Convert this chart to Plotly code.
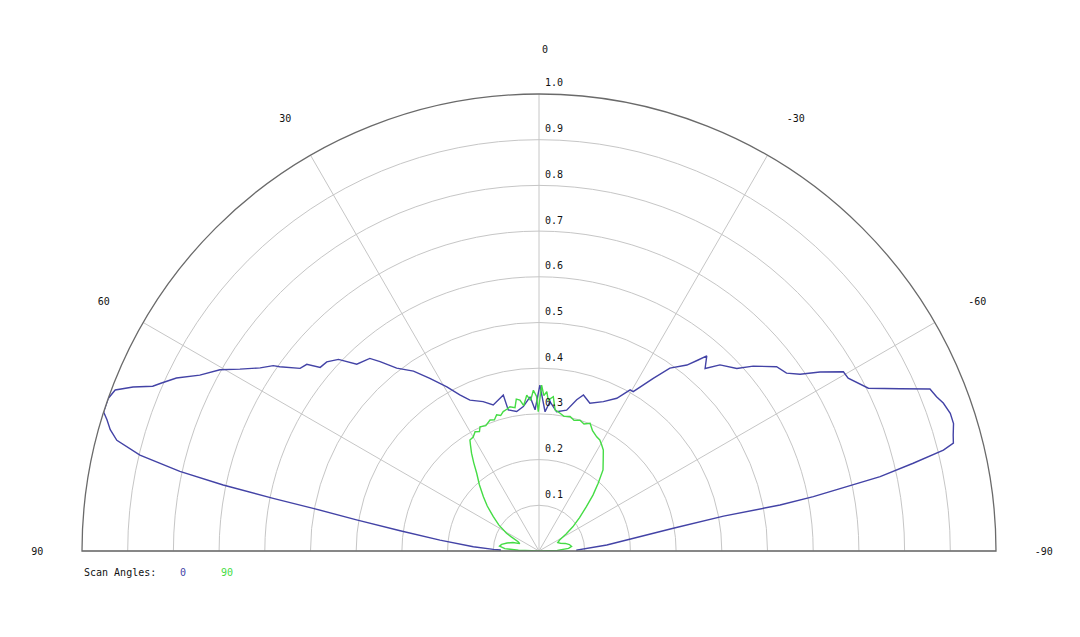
import plotly.graph_objects as go

# scan angle 0 (blue): polar angle in degrees, relative value
blue_theta = [90, 88.5, 87.9, 86.3, 83.7, 81.7, 80.3, 79.3, 78.8, 78.2, 77.5, 76.5,
              75.3, 74.2, 73.1, 72.3, 71.3, 70.5, 69.2, 68.0, 66.9, 66.0, 64.5, 62.6,
              60.4, 58.7, 56.7, 55.1, 54.6, 52.6, 51.2, 50.0, 48.3, 46.3, 44.3, 41.3,
              40.0, 37.9, 34.9, 32.3, 29.3, 26.9, 24.6, 20.5, 17.4, 14.3, 12.9, 12.3,
              9.1, 6.2, 3.3, 1.6, -0.3, -2.5, -4.2, -7.2, -11.1, -14.0, -15.9, -19.0,
              -23.3, -27.0, -29.5, -30.6, -33.5, -35.6, -38.5, -39.8, -40.7, -42.3,
              -44.2, -47.3, -49.2, -52.2, -54.3, -55.9, -57.5, -59.5, -60.8, -63.7,
              -65.8, -67.5, -68.8, -69.9, -71.5, -72.9, -74.4, -75.4, -76.0, -76.8,
              -77.7, -78.2, -78.8, -79.2, -79.3, -80.4, -84.9, -88.5, -90]
blue_r = [0.085, 0.085, 0.100, 0.144, 0.218, 0.307, 0.405, 0.503, 0.593, 0.706, 0.805, 0.898,
          0.955, 0.975, 0.988, 1.0, 1.0, 1.0, 0.992, 0.958, 0.919, 0.904, 0.879, 0.836,
          0.803, 0.766, 0.730, 0.709, 0.696, 0.658, 0.652, 0.625, 0.622, 0.607, 0.571, 0.561,
          0.541, 0.507, 0.480, 0.447, 0.412, 0.383, 0.363, 0.349, 0.335, 0.345, 0.350, 0.316,
          0.309, 0.318, 0.338, 0.309, 0.363, 0.305, 0.328, 0.307, 0.314, 0.341, 0.355, 0.342,
          0.356, 0.375, 0.405, 0.405, 0.453, 0.492, 0.520, 0.544, 0.563, 0.540,
          0.568, 0.589, 0.619, 0.658, 0.667, 0.690, 0.729, 0.773, 0.775, 0.804,
          0.866, 0.926, 0.933, 0.942, 0.949, 0.949, 0.941, 0.937, 0.912, 0.841,
          0.764, 0.688, 0.612, 0.537, 0.411, 0.298, 0.149, 0.083, 0.083]

# scan angle 90 (green)
green_theta = [90, 88, 86, 83, 80, 76, 72, 69, 66, 63, 61.3, 57, 53.1, 49, 45.7, 42,
               38.7, 36.5, 34.6, 33, 31.9, 30, 28.2, 26.5, 25.4, 23, 20.5, 18.8, 17.3,
               15.8, 14.4, 12.8, 11.4, 9.5, 8.5, 7.2, 6.0, 4.5, 3.2, 2.0, 0.9, 0.3,
               -0.9, -1.8, -2.8, -3.5, -5.3, -6.5, -8.7, -10.5, -13.0, -15, -17.4,
               -19.5, -21.8, -24, -26.8, -28.7, -30.5, -32.5, -35, -38.3, -41.1, -44,
               -46.9, -50.5, -54.4, -58, -62, -66, -70, -74, -78, -82, -85, -88, -90]
green_r = [0.0, 0.045, 0.075, 0.087, 0.083, 0.072, 0.060, 0.045, 0.050, 0.068, 0.081, 0.105,
           0.125, 0.150, 0.170, 0.195, 0.218, 0.240, 0.260, 0.275, 0.286, 0.288, 0.296,
           0.292, 0.301, 0.298, 0.306, 0.303, 0.312, 0.308, 0.315, 0.318, 0.322, 0.318,
           0.336, 0.333, 0.320, 0.342, 0.330, 0.352, 0.338, 0.305, 0.363, 0.340, 0.349,
           0.331, 0.339, 0.311, 0.305, 0.300, 0.302, 0.296, 0.300, 0.295, 0.301, 0.288,
           0.280, 0.277, 0.270, 0.262, 0.245, 0.226, 0.197, 0.170, 0.142, 0.115, 0.091,
           0.070, 0.051, 0.045, 0.050, 0.060, 0.068, 0.072, 0.065, 0.040, 0.0]

angle_ticks = [-90, -60, -30, 0, 30, 60, 90]
angle_labels = ["-90", "-60", "-30", "\u00a0\u00a00", "30", "60", "90"]
radial_ticks = [0.1, 0.2, 0.3, 0.4, 0.5, 0.6, 0.7, 0.8, 0.9, 1.0]
radial_labels = ["0.1", "0.2", "0.3", "0.4", "0.5", "0.6", "0.7", "0.8", "0.9", "1.0"]
scan_names = ["0", "90"]

BLUE = "#4343a6"
GREEN = "#45dc45"
GRID = "#c6c6c6"
TEXT = "#111111"
FONT = "DejaVu Sans Mono"

# the page puts the figure 8px in from the top-left corner
W, H = 1072, 629
CX, BASE, R = 539, 551, 457   # screen centre, baseline and radius of the half disc


def px(x):
    return (x - 8) / W


def py(y):
    return (637 - y) / H


fig = go.Figure()
fig.add_trace(go.Scatterpolar(
    theta=blue_theta, r=blue_r, mode="lines", name=scan_names[0],
    line=dict(color=BLUE, width=1.4), hoverinfo="skip"))
fig.add_trace(go.Scatterpolar(
    theta=green_theta, r=green_r, mode="lines", name=scan_names[1],
    line=dict(color=GREEN, width=1.4), hoverinfo="skip"))

# radial value labels on a hidden twin polar with a little head-room above 1.0,
# so the "1.0" label can sit just above the outer arc
fig.add_trace(go.Scatterpolar(
    theta=[0] * len(radial_ticks), r=[v + 0.011 for v in radial_ticks], mode="text",
    text=["\u00a0" + t for t in radial_labels], textposition="top right",
    textfont=dict(family=FONT, size=10, color=TEXT),
    cliponaxis=False, hoverinfo="skip", subplot="polar2"))

hidden_axis = dict(visible=False, showgrid=False, showline=False, ticks="")

fig.update_layout(
    width=W, height=H,
    margin=dict(l=0, r=0, t=0, b=0),
    paper_bgcolor="white",
    showlegend=False,
    font=dict(family=FONT, size=10, color=TEXT),
    polar=dict(
        sector=[0, 180],
        domain=dict(x=[px(CX - R), px(CX + R)], y=[py(BASE), py(BASE - R)]),
        bgcolor="white",
        angularaxis=dict(
            rotation=90, direction="counterclockwise",
            tickmode="array", tickvals=angle_ticks, ticktext=angle_labels,
            showline=True, linecolor="#6a6a6a", linewidth=1.3,
            gridcolor=GRID, gridwidth=1,
            ticks="outside", ticklen=36, tickcolor="rgba(0,0,0,0)",
            tickfont=dict(family=FONT, size=10, color=TEXT),
        ),
        radialaxis=dict(
            range=[0, 1], dtick=0.1, showticklabels=False, ticks="",
            showline=False, gridcolor=GRID, gridwidth=1,
        ),
    ),
    polar2=dict(
        sector=[0, 180],
        domain=dict(x=[px(CX - 1.1 * R), px(CX + 1.1 * R)],
                    y=[py(BASE), py(BASE - 1.1 * R)]),
        bgcolor="rgba(0,0,0,0)",
        angularaxis=dict(rotation=90, direction="counterclockwise", **hidden_axis),
        radialaxis=dict(range=[0, 1.1], **hidden_axis),
    ),
)

# legend row under the plot
fig.add_annotation(x=px(82), y=py(572), xref="paper", yref="paper",
                   text="Scan Angles:", showarrow=False, xanchor="left", yanchor="middle",
                   font=dict(family=FONT, size=10, color=TEXT))
fig.add_annotation(x=px(183), y=py(572), xref="paper", yref="paper",
                   text=scan_names[0], showarrow=False, xanchor="center", yanchor="middle",
                   font=dict(family=FONT, size=10, color=BLUE))
fig.add_annotation(x=px(227), y=py(572), xref="paper", yref="paper",
                   text=scan_names[1], showarrow=False, xanchor="center", yanchor="middle",
                   font=dict(family=FONT, size=10, color=GREEN))

# dark frame line at the right edge of the picture
fig.add_shape(type="line", xref="paper", yref="paper", x0=px(1076.5), x1=px(1076.5),
              y0=0, y1=1, line=dict(color="#555555", width=1.5))

fig.write_html("out.html")
